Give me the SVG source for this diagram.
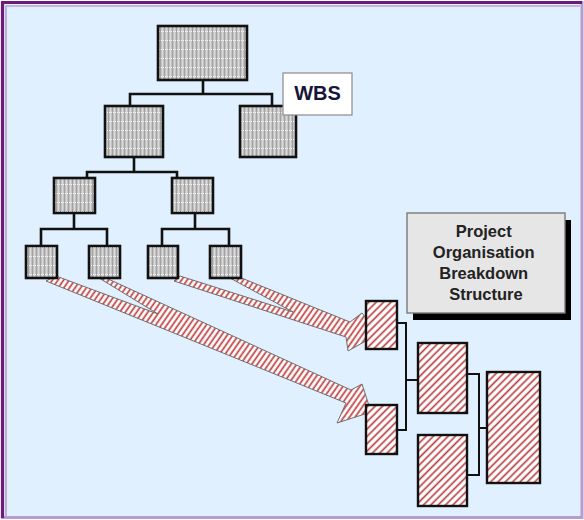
<svg xmlns="http://www.w3.org/2000/svg" width="584" height="520" viewBox="0 0 584 520">
  <defs>
    <!-- grey stippled fill of the WBS boxes -->
    <pattern id="grey" patternUnits="userSpaceOnUse" width="4" height="9">
      <rect width="4" height="9" fill="#c2c2c2"/>
      <rect x="0" width="1" height="9" fill="#a2a2a2"/>
      <rect x="2" width="1" height="9" fill="#dadada"/>
      <rect x="1" y="4" width="1" height="1" fill="#f8f8f8"/>
      <rect x="3" y="4" width="1" height="1" fill="#f2f2f2"/>
    </pattern>
    <!-- red diagonal hatch of the organisation boxes -->
    <pattern id="hatch" patternUnits="userSpaceOnUse" width="5.2" height="10" patternTransform="rotate(45)">
      <rect width="5.2" height="10" fill="#ffffff"/>
      <line x1="1.3" y1="0" x2="1.3" y2="10" stroke="#b8393b" stroke-width="1.6"/>
    </pattern>
    <!-- hatch for the block arrows -->
    <pattern id="arrowHatch" patternUnits="userSpaceOnUse" width="4.6" height="10" patternTransform="rotate(35)">
      <rect width="4.6" height="10" fill="#ffffff"/>
      <line x1="1.2" y1="0" x2="1.2" y2="10" stroke="#bf3f41" stroke-width="1.7"/>
    </pattern>
  </defs>
  <style>
    .wbs { fill: url(#grey); stroke: #111; stroke-width: 2.6; }
    .obs { fill: url(#hatch); stroke: #111; stroke-width: 2.4; }
    .tree { fill: none; stroke: #111; stroke-width: 2.6; stroke-linecap: square; }
    .otree { fill: none; stroke: #111; stroke-width: 2; stroke-linecap: square; }
    .arrow { fill: url(#arrowHatch); stroke: #6f6f6f; stroke-width: 1; stroke-linejoin: round; }
    .label { font-family: "Liberation Sans", Arial, sans-serif; font-weight: bold; text-anchor: middle; }
  </style>

  <!-- frame and background -->
  <rect x="0" y="0" width="584" height="520" fill="#ffffff"/>
  <rect x="2.5" y="2.5" width="579.5" height="515" fill="#e0f0fe" stroke="#b79bd1" stroke-width="3"/>
  <path d="M2.5,518 V2.5 H582" fill="none" stroke="#6c1b7c" stroke-width="3.2"/>
  <path d="M6,516 V6 H580" fill="none" stroke="#b99fd3" stroke-width="1.6"/>

  <!-- connectors -->
  <g id="connectors">
    <!-- block arrows mapping work packages onto organisation units -->
    <g id="mapping-arrows">
      <polygon class="arrow" points="106,278 351,390 362,384 371,412 337,423 346,403 46,281 56,276 158,314 99,278"/>
      <polygon class="arrow" points="239,277 350,322 362,313 378,334 348,351 346,337 174,281 180,276 293,312 228,277"/>
    </g>
    <!-- WBS tree lines -->
    <g id="wbs-tree">
      <path class="tree" d="M203,80 V94 M130,94 H272 M130,94 V106 M272,94 V106"/>
      <path class="tree" d="M134,157 V172 M87,172 H177 M87,172 V178 M177,172 V178"/>
      <path class="tree" d="M74,213 V229 M41,229 H107 M41,229 V246 M107,229 V246"/>
      <path class="tree" d="M195,213 V229 M162,229 H229 M162,229 V246 M229,229 V246"/>
    </g>
    <!-- organisation chart lines -->
    <g id="obs-tree">
      <path class="otree" d="M397,323 H406 V430 H397 M406,380 H418"/>
      <path class="otree" d="M467,374 H479 V475 H467 M479,428 H487"/>
    </g>
  </g>

  <!-- work breakdown structure -->
  <g id="wbs-root"><rect class="wbs" x="158" y="26" width="89" height="54"/></g>
  <g id="wbs-1"><rect class="wbs" x="105" y="106" width="58" height="51"/></g>
  <g id="wbs-2"><rect class="wbs" x="240" y="106" width="56" height="51"/></g>
  <g id="wbs-1-1"><rect class="wbs" x="54" y="178" width="41" height="35"/></g>
  <g id="wbs-1-2"><rect class="wbs" x="172" y="178" width="41" height="35"/></g>
  <g id="wbs-1-1-1"><rect class="wbs" x="26" y="246" width="31" height="32"/></g>
  <g id="wbs-1-1-2"><rect class="wbs" x="89" y="246" width="31" height="32"/></g>
  <g id="wbs-1-2-1"><rect class="wbs" x="148" y="246" width="30" height="32"/></g>
  <g id="wbs-1-2-2"><rect class="wbs" x="210" y="246" width="31" height="32"/></g>

  <!-- WBS caption -->
  <g id="wbs-caption">
    <rect x="283" y="73" width="69" height="42" fill="#ffffff" stroke="#8a8a8a" stroke-width="1.2"/>
    <text class="label" x="317.5" y="99.5" font-size="20" fill="#16163a">WBS</text>
  </g>

  <!-- organisation breakdown structure -->
  <g id="obs-a"><rect class="obs" x="366" y="301" width="31" height="48"/></g>
  <g id="obs-b"><rect class="obs" x="366" y="405" width="31" height="49"/></g>
  <g id="obs-c"><rect class="obs" x="418" y="343" width="49" height="70"/></g>
  <g id="obs-d"><rect class="obs" x="418" y="435" width="49" height="71"/></g>
  <g id="obs-e"><rect class="obs" x="487" y="372" width="53" height="111"/></g>

  <!-- OBS caption with drop shadow -->
  <g id="obs-caption">
    <rect x="413" y="220" width="158" height="100" fill="#000000"/>
    <rect x="407" y="213" width="158" height="100" fill="#e6e6e6" stroke="#7a7a7a" stroke-width="1.4"/>
    <text class="label" font-size="16.5" fill="#222222">
      <tspan x="486" y="237">Project</tspan>
      <tspan x="486" y="258">Organisation</tspan>
      <tspan x="486" y="279">Breakdown</tspan>
      <tspan x="486" y="299.5">Structure</tspan>
    </text>
  </g>
</svg>
